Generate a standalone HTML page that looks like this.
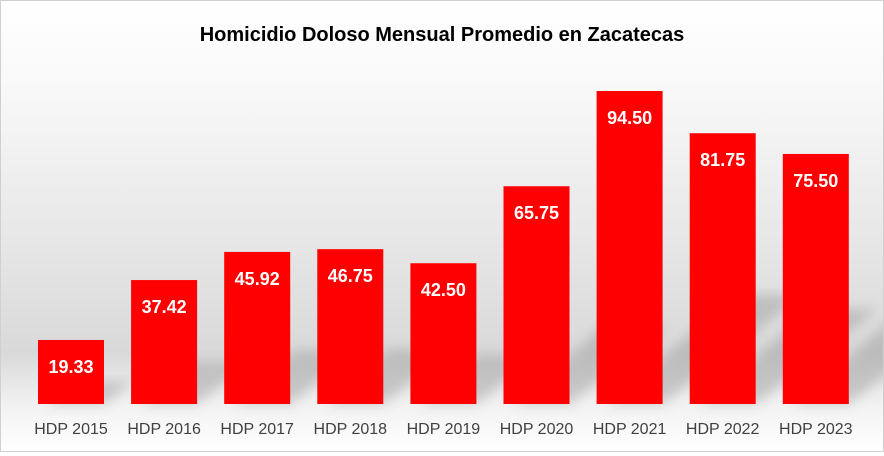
<!DOCTYPE html>
<html><head><meta charset="utf-8"><style>
body{margin:0;width:884px;height:452px;overflow:hidden;font-family:"Liberation Sans",sans-serif}
#chart{position:absolute;left:0;top:0;width:882px;height:450px;border:1px solid #d0d0d0;
background:linear-gradient(to bottom,#ffffff 0%,#f8f8f8 20%,#e6e6e6 55%,#d9d9d9 78%,#f2f2f2 90%,#ffffff 100%)}
</style></head><body>
<div id="chart">
<svg id="svg" width="882" height="450" xmlns="http://www.w3.org/2000/svg">
<defs><filter id="sh" x="-30%" y="-30%" width="180%" height="180%"><feGaussianBlur stdDeviation="6"/></filter></defs>
<text x="441" y="40" text-anchor="middle" font-size="20" font-weight="bold" fill="#000">Homicidio Doloso Mensual Promedio en Zacatecas</text>
<g id="shadows"></g><g id="bars"></g><g id="labels"></g>
</svg></div>
<script>
const categories=["HDP 2015","HDP 2016","HDP 2017","HDP 2018","HDP 2019","HDP 2020","HDP 2021","HDP 2022","HDP 2023"];
const values=[19.33,37.42,45.92,46.75,42.50,65.75,94.50,81.75,75.50];
const valueLabels=["19.33","37.42","45.92","46.75","42.50","65.75","94.50","81.75","75.50"];
const NS="http://www.w3.org/2000/svg";
const baseY=403, pxPerUnit=3.312, x0=37, step=93.1, bw=66;
function yScale(v){return baseY-v*pxPerUnit;}
function xScale(i){return x0+i*step;}
const bars=document.getElementById('bars'),labels=document.getElementById('labels'),sh=document.getElementById('shadows');
values.forEach((v,i)=>{
  const x=xScale(i),y=yScale(v);
  const s=document.createElementNS(NS,'polygon');
  const h=baseY-y;
  s.setAttribute('points',`${x+10},${baseY} ${x+bw},${baseY} ${x+bw+h*0.45},${baseY-h*0.35} ${x+h*0.45},${baseY-h*0.35}`);
  s.setAttribute('fill','#999');s.setAttribute('opacity','0.45');s.setAttribute('filter','url(#sh)');
  
  
  sh.appendChild(s);
  const r=document.createElementNS(NS,'rect');
  r.setAttribute('x',x);r.setAttribute('y',y);r.setAttribute('width',bw);r.setAttribute('height',h);r.setAttribute('fill','#ff0000');
  
  
  bars.appendChild(r);
  const t=document.createElementNS(NS,'text');
  t.setAttribute('x',x+bw/2);t.setAttribute('y',y+33);t.setAttribute('text-anchor','middle');
  t.setAttribute('font-size','18');t.setAttribute('font-weight','bold');t.setAttribute('fill','#fff');
  t.textContent=valueLabels[i];
  
  
  labels.appendChild(t);
  const c=document.createElementNS(NS,'text');
  c.setAttribute('x',x+bw/2);c.setAttribute('y',433);c.setAttribute('text-anchor','middle');
  c.setAttribute('font-size','16');c.setAttribute('fill','#404040');
  c.textContent=categories[i];
  
  
  labels.appendChild(c);
});
</script>
</body></html>
